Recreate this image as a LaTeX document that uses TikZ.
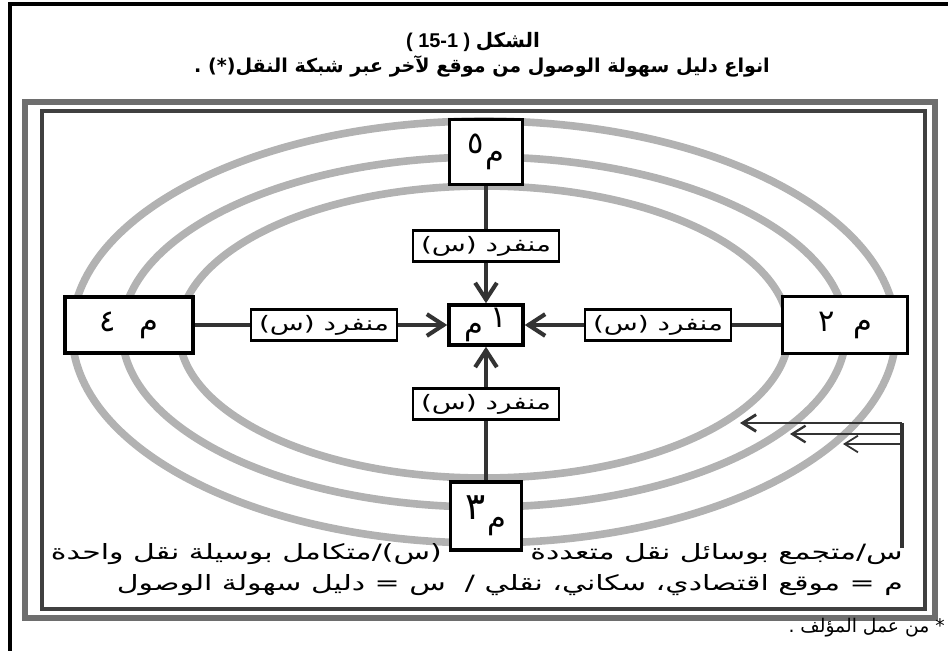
\documentclass[tikz,border=0pt]{standalone}
\usepackage{fontspec}
\usepackage{graphicx}
\setmainfont{Liberation Sans}
\newfontfamily\arabicfont[Script=Arabic]{DejaVu Sans}
\TeXXeTstate=1
\usetikzlibrary{arrows.meta}
\definecolor{ringgray}{HTML}{B2B2B2}
\definecolor{framegray}{HTML}{6E6E6E}
\definecolor{linkgray}{HTML}{333333}
\newcommand{\widetext}[2][1.42]{\scalebox{#1}[1]{#2}}
\tikzstyle{site} = [rectangle, draw=black, line width=3pt, fill=white, inner sep=0pt, font=\arabicfont\fontsize{26}{28}\selectfont]
\tikzstyle{mode} = [rectangle, draw=black, line width=2pt, fill=white, minimum width=4.38cm, minimum height=0.93cm, inner sep=0pt, font=\arabicfont\fontsize{17}{19}\selectfont]
\tikzstyle{ring} = [draw=ringgray, line width=6.5pt]
\tikzstyle{link} = [draw=linkgray, line width=3.5pt]
\tikzstyle{arrow} = [link, -{Straight Barb[length=5mm, width=6.5mm]}]
\tikzstyle{feed} = [draw=linkgray, line width=2.5pt, -{Straight Barb[length=4mm, width=5mm]}]
\tikzstyle{note} = [font=\arabicfont\fontsize{18}{20}\selectfont, inner sep=0pt]

\begin{document}
\begin{tikzpicture}[x=0.03cm, y=-0.03cm]
\useasboundingbox (0,0) rectangle (948,651);
% page edge
\draw [line width=4pt] (10,651) -- (10,4) -- (948,4);
% title
\node (title)[font=\bfseries\fontsize{17}{19}\selectfont] at (473,42) {( 15-1 ) {\arabicfont الشكل}};
\node (subtitle)[font=\arabicfont\bfseries\fontsize{16.3}{18}\selectfont] at (482,66) {\beginR انواع دليل سهولة الوصول من موقع لآخر عبر شبكة النقل(*) .\endR};
% double frame
\draw [framegray, line width=4.5pt] (25,102) rectangle (935,618);
\draw [black!75, line width=3.5pt] (42,111) rectangle (925,609);
% rings
\draw [ring] (484,332) ellipse [x radius=412, y radius=211];
\draw [ring] (484,332) ellipse [x radius=362, y radius=175];
\draw [ring] (484,332) ellipse [x radius=305, y radius=146];

% sites
\node (m1)[site, minimum width=2.22cm, minimum height=1.2cm] at (486,325) {م\kern6pt\raisebox{6pt}{١}};
\node (m2)[site, minimum width=3.75cm, minimum height=1.71cm] at (845,325) {٢\kern16pt م};
\node (m3)[site, minimum width=2.13cm, minimum height=2.04cm] at (486,516) {\raisebox{8pt}{\fontsize{32}{34}\selectfont ٣}\kern1pt م};
\node (m4)[site, minimum width=3.84cm, minimum height=1.68cm] at (129,325) {٤\kern20pt م};
\node (m5)[site, minimum width=2.19cm, minimum height=1.95cm] at (486,152) {\raisebox{8pt}{٥}\kern1pt م};

% modes
\node (s2)[mode] at (658,325) {\widetext[1.4]{\beginR منفرد (س)\endR}};
\node (s3)[mode] at (486,404) {\widetext[1.4]{\beginR منفرد (س)\endR}};
\node (s4)[mode] at (324,325) {\widetext[1.4]{\beginR منفرد (س)\endR}};
\node (s5)[mode] at (486,246) {\widetext[1.4]{\beginR منفرد (س)\endR}};

\draw [link] (m2) -- (s2);
\draw [arrow] (s2) -- (m1);
\draw [link] (m3) -- (s3);
\draw [arrow] (s3) -- (m1);
\draw [link] (m4) -- (s4);
\draw [arrow] (s4) -- (m1);
\draw [link] (m5) -- (s5);
\draw [arrow] (s5) -- (m1);

% combined access
\coordinate (fork) at (902,548);
\coordinate (f1) at (902,423);
\coordinate (f2) at (902,434);
\coordinate (f3) at (902,444);
\coordinate (r1) at (740,423);
\coordinate (r2) at (790,434);
\coordinate (r3) at (843,444);
\draw [link, line width=3pt] (fork) -- (f1);
\draw [feed] (f1) -- (r1);
\draw [feed, line width=2pt] (f2) -- (r2);
\draw [feed, line width=1.5pt] (f3) -- (r3);

% key
\node (k1)[note, anchor=east] at (903,554) {\widetext{\beginR س/متجمع بوسائل نقل متعددة\endR}};
\node (k2)[note, anchor=east] at (442,554) {\widetext{\beginR (س)/متكامل بوسيلة نقل واحدة\endR}};
\node (k3)[note, anchor=east] at (903,585) {\widetext{\beginR م = موقع اقتصادي، سكاني، نقلي / \ س = دليل سهولة الوصول\endR}};
\node (foot)[note, anchor=east, font=\arabicfont\fontsize{16}{18}\selectfont] at (945,628) {\beginR * من عمل المؤلف .\endR};
\end{tikzpicture}
\end{document}
